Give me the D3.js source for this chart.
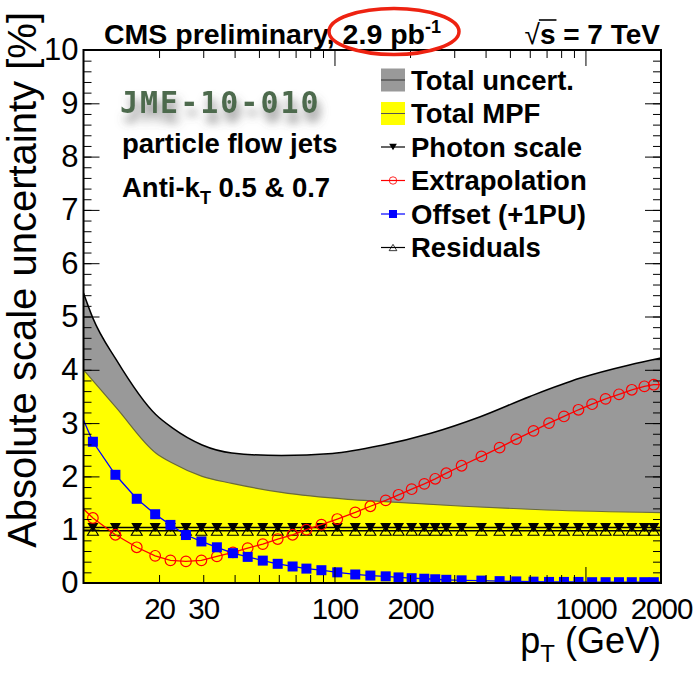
<!DOCTYPE html>
<html>
<head>
<meta charset="utf-8">
<script src="https://cdn.jsdelivr.net/npm/d3@7"></script>
<style>
  body { margin: 0; background: #fff; }
  svg text { font-family: "Liberation Sans", Arial, Helvetica, sans-serif; fill: #000; }
</style>
</head>
<body>
<div id="chart"></div>
<script>
// ---------------- datos ----------------
// pT de los puntos (GeV)
const ptPoints = [10.9, 13.4, 16.3, 19.3, 22.2, 25.6, 29.5, 34.0, 39.4, 45.1,
                  51.8, 59.4, 68.1, 77.3, 88.7, 102.6, 121, 139, 160, 180,
                  203, 228, 252, 279, 321, 385, 455, 530, 621, 716,
                  821, 938, 1063, 1203, 1360, 1530, 1717, 1872];

const photonScale = [1.04, 1.04, 1.04, 1.04, 1.04, 1.04, 1.04, 1.04, 1.04, 1.04,
                     1.04, 1.04, 1.04, 1.04, 1.04, 1.04, 1.04, 1.04, 1.04, 1.04,
                     1.04, 1.04, 1.04, 1.04, 1.04, 1.04, 1.04, 1.04, 1.04, 1.04,
                     1.04, 1.04, 1.04, 1.04, 1.04, 1.04, 1.04, 1.04];

const extrapolation = [1.22, 0.905, 0.67, 0.51, 0.425, 0.405, 0.425, 0.50, 0.575, 0.655,
                       0.73, 0.825, 0.905, 1.0, 1.095, 1.20, 1.325, 1.44, 1.55, 1.655,
                       1.76, 1.86, 1.955, 2.06, 2.20, 2.375, 2.54, 2.70, 2.855, 3.0,
                       3.125, 3.25, 3.355, 3.455, 3.54, 3.625, 3.69, 3.72];

const offsetPU = [2.65, 2.03, 1.58, 1.29, 1.09, 0.90, 0.78, 0.67, 0.56, 0.49,
                  0.42, 0.36, 0.31, 0.27, 0.24, 0.20, 0.16, 0.14, 0.125, 0.105,
                  0.09, 0.08, 0.07, 0.06, 0.05, 0.045, 0.035, 0.03, 0.025, 0.02,
                  0.02, 0.02, 0.015, 0.015, 0.015, 0.015, 0.015, 0.015];

const residuals = [0.98, 0.98, 0.98, 0.98, 0.98, 0.98, 0.98, 0.98, 0.98, 0.98,
                   0.98, 0.98, 0.98, 0.98, 0.98, 0.98, 0.98, 0.98, 0.98, 0.98,
                   0.98, 0.98, 0.98, 0.98, 0.98, 0.98, 0.98, 0.98, 0.98, 0.98,
                   0.98, 0.98, 0.98, 0.98, 0.98, 0.98, 0.98, 0.98];

// valor de las curvas en el borde izquierdo (pT = 10)
const edgePt = 10;
const extrapolationEdge = 1.39;
const offsetEdge = 3.06;

// bandas
const totalPt = [10, 10.9, 13.5, 19.4, 22.6, 29.7, 39, 61.5, 98, 153, 242, 381, 601, 948, 1496, 2000];
const totalUncert = [5.44, 4.97, 4.19, 3.16, 2.91, 2.59, 2.44, 2.39, 2.43, 2.58, 2.81, 3.12, 3.50, 3.84, 4.09, 4.22];

const mpfPt = [10, 13.5, 19.4, 22.6, 29.7, 39, 61.5, 113, 153, 327, 700, 2000];
const totalMPF = [4.0, 3.29, 2.44, 2.25, 2.0, 1.87, 1.70, 1.57, 1.53, 1.44, 1.37, 1.32];

// ejes
const xLabelTicks = [20, 30, 100, 200, 1000, 2000];
const xMinorTicks = [20, 30, 40, 50, 60, 70, 80, 90, 200, 300, 400, 500, 600, 700, 800, 900, 2000];
const xMajorTicks = [100, 1000];
const yLabelTicks = [0, 1, 2, 3, 4, 5, 6, 7, 8, 9, 10];

const legendLabels = ["Total uncert.", "Total MPF", "Photon scale", "Extrapolation", "Offset (+1PU)", "Residuals"];

// ---------------- dibujo ----------------
const width = 699;
const height = 674;
const plotLeft = 83.5, plotRight = 661, plotTop = 50, plotBottom = 583;

const svg = d3.select("#chart")
    .append("svg")
    .attr("width", width)
    .attr("height", height);

const defs = svg.append("defs");
defs.append("clipPath").attr("id", "frame-clip")
    .append("rect")
    .attr("x", plotLeft).attr("y", plotTop)
    .attr("width", plotRight - plotLeft).attr("height", plotBottom - plotTop);

const shadow = defs.append("filter").attr("id", "soft-shadow")
    .attr("x", "-20%").attr("y", "-60%").attr("width", "140%").attr("height", "250%");
shadow.append("feDropShadow")
    .attr("dx", 3).attr("dy", 9).attr("stdDeviation", 5)
    .attr("flood-color", "#555").attr("flood-opacity", 0.7);

const x = d3.scaleLog().domain([10, 2000]).range([plotLeft, plotRight]);
const y = d3.scaleLinear().domain([0, 10]).range([plotBottom, plotTop]);

const plot = svg.append("g").attr("clip-path", "url(#frame-clip)");

// bandas rellenas
const toPoints = (xs, ys) => xs.map((p, i) => ({ pt: p, v: ys[i] }));
const totalData = toPoints(totalPt, totalUncert);
const mpfData = toPoints(mpfPt, totalMPF);

const area = d3.area()
    .x(d => x(d.pt))
    .y0(y(0))
    .y1(d => y(d.v))
    .curve(d3.curveMonotoneX);
const edge = d3.line()
    .x(d => x(d.pt))
    .y(d => y(d.v))
    .curve(d3.curveMonotoneX);

plot.append("path").attr("d", area(totalData)).attr("fill", "#999999");
plot.append("path").attr("d", area(mpfData)).attr("fill", "#ffff00");
plot.append("path").attr("d", edge(mpfData)).attr("fill", "none").attr("stroke", "#6b6b3a").attr("stroke-width", 1.2);
plot.append("path").attr("d", edge(totalData)).attr("fill", "none").attr("stroke", "#000").attr("stroke-width", 1.5);

// series con marcadores
const line = d3.line().x(d => x(d.pt)).y(d => y(d.v));

const triDown = "M-5.5,-4.5L5.5,-4.5L0,4.5Z";
const triUp = "M-5.5,4.5L5.5,4.5L0,-4.5Z";

function drawSeries(values, edgeValue, color, marker) {
    let pts = toPoints(ptPoints, values);
    let first = edgeValue == null ? values[0] : edgeValue;
    let linePts = [{ pt: edgePt, v: first }].concat(pts);
    plot.append("path")
        .attr("d", line(linePts.concat([{ pt: 2000, v: values[values.length - 1] }])))
        .attr("fill", "none")
        .attr("stroke", color)
        .attr("stroke-width", color === "#000" ? 1.6 : 1.3);

    const g = plot.append("g");
    g.selectAll("g.m")
        .data(pts)
        .enter().append("g")
        .attr("class", "m")
        .attr("transform", d => "translate(" + x(d.pt) + "," + y(d.v) + ")")
        .each(function() { marker(d3.select(this)); });
}

function markerPhoton(sel) { sel.append("path").attr("d", triDown).attr("fill", "#000"); }
function markerResidual(sel) { sel.append("path").attr("d", triUp).attr("fill", "none").attr("stroke", "#000").attr("stroke-width", 1.1); }
function markerCircle(sel) { sel.append("circle").attr("r", 5.3).attr("fill", "none").attr("stroke", "#ff0000").attr("stroke-width", 1.2); }
function markerSquare(sel) { sel.append("rect").attr("x", -5).attr("y", -5).attr("width", 10).attr("height", 10).attr("fill", "#0000ff"); }

drawSeries(residuals, null, "#000", markerResidual);
drawSeries(photonScale, null, "#000", markerPhoton);
drawSeries(extrapolation, extrapolationEdge, "#ff0000", markerCircle);
drawSeries(offsetPU, offsetEdge, "#0000ff", markerSquare);

// ---------------- ejes ----------------
function styleAxis(g) {
    g.select(".domain").remove();
    g.selectAll(".tick line").attr("stroke", "#000").attr("stroke-width", 1);
    // quitar los textos vacios de los ejes sin etiquetas
    g.selectAll(".tick text").filter(function() { return this.textContent === ""; }).remove();
}

// inferior
svg.append("g").attr("transform", "translate(0," + plotBottom + ")")
    .call(d3.axisBottom(x).tickValues(xMinorTicks).tickSize(-8).tickFormat(""))
    .call(styleAxis);
svg.append("g").attr("transform", "translate(0," + plotBottom + ")")
    .call(d3.axisBottom(x).tickValues(xMajorTicks).tickSize(-16).tickFormat(""))
    .call(styleAxis);
const xLabels = svg.append("g").attr("transform", "translate(0," + plotBottom + ")")
    .call(d3.axisBottom(x).tickValues(xLabelTicks).tickSize(0).tickPadding(15).tickFormat(d3.format("d")))
    .call(styleAxis);
xLabels.attr("font-family", null).attr("font-size", null);
xLabels.selectAll("text").style("font-size", "29.5px").style("letter-spacing", "-1px");

// superior
svg.append("g").attr("transform", "translate(0," + plotTop + ")")
    .call(d3.axisTop(x).tickValues(xMinorTicks).tickSize(-8).tickFormat(""))
    .call(styleAxis);
svg.append("g").attr("transform", "translate(0," + plotTop + ")")
    .call(d3.axisTop(x).tickValues(xMajorTicks).tickSize(-16).tickFormat(""))
    .call(styleAxis);

// izquierdo y derecho
const yMinor = d3.range(0, 10.001, 0.2);
svg.append("g").attr("transform", "translate(" + plotLeft + ",0)")
    .call(d3.axisLeft(y).tickValues(yMinor).tickSize(-8).tickFormat(""))
    .call(styleAxis);
const yLabels = svg.append("g").attr("transform", "translate(" + plotLeft + ",0)")
    .call(d3.axisLeft(y).tickValues(yLabelTicks).tickSize(-16).tickFormat(d3.format("d")))
    .call(styleAxis);
yLabels.attr("font-family", null).attr("font-size", null);
yLabels.selectAll("text").style("font-size", "31px").attr("x", -5);
svg.append("g").attr("transform", "translate(" + plotRight + ",0)")
    .call(d3.axisRight(y).tickValues(yMinor).tickSize(-8).tickFormat(""))
    .call(styleAxis);
svg.append("g").attr("transform", "translate(" + plotRight + ",0)")
    .call(d3.axisRight(y).tickValues(yLabelTicks).tickSize(-16).tickFormat(""))
    .call(styleAxis);

// marco
svg.append("rect")
    .attr("x", plotLeft).attr("y", plotTop)
    .attr("width", plotRight - plotLeft).attr("height", plotBottom - plotTop)
    .attr("fill", "none").attr("stroke", "#000").attr("stroke-width", 2);

// titulos de ejes
svg.append("text")
    .attr("transform", "translate(36,12) rotate(-90)")
    .attr("text-anchor", "end")
    .style("font-size", "40px")
    .text("Absolute scale uncertainty [%]");

const xTitle = svg.append("text")
    .attr("x", 661).attr("y", 653)
    .attr("text-anchor", "end")
    .style("font-size", "36px");
xTitle.append("tspan").text("p");
xTitle.append("tspan").attr("dy", 9).style("font-size", "24px").text("T");
xTitle.append("tspan").attr("dy", -9).text(" (GeV)");

// ---------------- textos superiores ----------------
const title = svg.append("text")
    .attr("x", 104).attr("y", 44)
    .style("font-size", "28.5px").style("font-weight", "bold");
title.append("tspan").text("CMS preliminary, 2.9 pb");
title.append("tspan").attr("dy", -11).style("font-size", "18px").text("-1");

const energy = svg.append("text")
    .attr("x", 660).attr("y", 44)
    .attr("text-anchor", "end")
    .style("font-size", "28px").style("font-weight", "bold");
energy.append("tspan").style("font-weight", "normal").text("\u221A");
energy.append("tspan").text("s = 7 TeV");
// raya del radical sobre la "s"
const eBox = energy.node().getBBox();
const rootW = energy.node().getSubStringLength(0, 1);
const sW = energy.node().getSubStringLength(1, 1);
svg.append("line")
    .attr("x1", eBox.x + rootW - 1).attr("x2", eBox.x + rootW + sW + 1)
    .attr("y1", 20).attr("y2", 20)
    .attr("stroke", "#000").attr("stroke-width", 1.6);

svg.append("ellipse")
    .attr("cx", 394).attr("cy", 31.5)
    .attr("rx", 65).attr("ry", 23)
    .attr("fill", "none").attr("stroke", "#ee2211").attr("stroke-width", 3.5);

// ---------------- anotaciones ----------------
svg.append("text")
    .attr("x", 120).attr("y", 113)
    .attr("filter", "url(#soft-shadow)")
    .style("font-family", "'DejaVu Sans Mono', monospace")
    .style("font-size", "30px").style("font-weight", "bold")
    .style("letter-spacing", "2px")
    .style("fill", "#4d6b4d")
    .text("JME-10-010");

svg.append("text")
    .attr("x", 122).attr("y", 153)
    .style("font-size", "27.5px").style("font-weight", "bold")
    .text("particle flow jets");

const algo = svg.append("text")
    .attr("x", 122).attr("y", 197)
    .style("font-size", "27.5px").style("font-weight", "bold");
algo.append("tspan").text("Anti-k");
algo.append("tspan").attr("dy", 7).style("font-size", "18px").text("T");
algo.append("tspan").attr("dy", -7).text(" 0.5 & 0.7");

// ---------------- leyenda ----------------
const legend = svg.append("g").attr("transform", "translate(381,80)");
const rowH = 33.5;
const rows = legend.selectAll("g.row")
    .data(legendLabels)
    .enter().append("g")
    .attr("class", "row")
    .attr("transform", (d, i) => "translate(0," + (i * rowH) + ")");

rows.append("text")
    .attr("x", 30).attr("y", 9.8)
    .style("font-size", "27.5px").style("font-weight", "bold")
    .text(d => d);

const legendFill = ["#999999", "#ffff00"];
rows.filter((d, i) => i < 2).append("rect")
    .attr("x", 0).attr("y", -11.5).attr("width", 24).attr("height", 23)
    .attr("fill", (d, i) => legendFill[i]);
rows.filter((d, i) => i < 2).append("line")
    .attr("x1", 0).attr("x2", 24).attr("y1", 0).attr("y2", 0)
    .attr("stroke", (d, i) => i === 0 ? "#333" : "#555").attr("stroke-width", 1);

const legendColor = ["#000", "#ff0000", "#0000ff", "#000"];
const legendMarker = [markerPhoton, markerCircle, markerSquare, markerResidual];
rows.filter((d, i) => i >= 2).each(function(d, i) {
    const g = d3.select(this);
    g.append("line")
        .attr("x1", 0).attr("x2", 24).attr("y1", 0).attr("y2", 0)
        .attr("stroke", legendColor[i]).attr("stroke-width", 1.2);
    const m = g.append("g").attr("transform", "translate(12,0)");
    legendMarker[i](m.append("g").attr("transform", i === 2 ? "scale(0.8)" : "scale(0.7)"));
});
</script>
</body>
</html>
